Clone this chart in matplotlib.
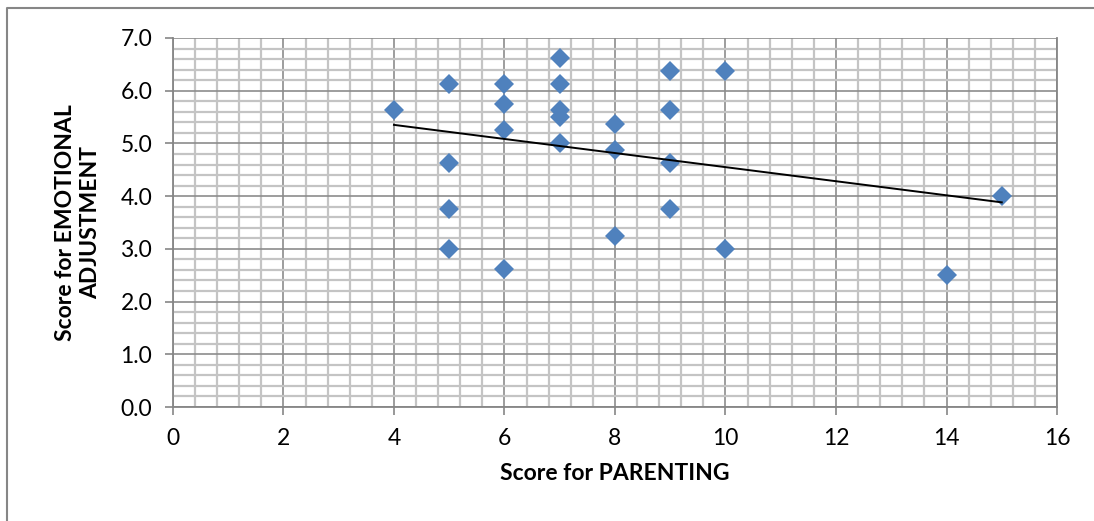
import numpy as np
from matplotlib import pyplot as plt
from matplotlib.lines import Line2D
from matplotlib.ticker import MultipleLocator

parenting = [4, 5, 5, 5, 5, 6, 6, 6, 6, 7, 7, 7, 7, 7,
             8, 8, 8, 9, 9, 9, 9, 10, 10, 14, 15]
emotional = [5.625, 6.125, 4.625, 3.75, 3.0, 6.125, 5.75, 5.25, 2.625,
             6.625, 6.125, 5.625, 5.5, 5.0, 5.375, 4.875, 3.25,
             6.375, 5.625, 4.625, 3.75, 6.375, 3.0, 2.5, 4.0]

plt.rcParams['font.family'] = ['Lato', 'DejaVu Sans']

fig = plt.figure(figsize=(10.94, 5.21), dpi=100)
ax = fig.add_axes([0.1581, 0.2188, 0.8081, 0.7083])

# chart border (only top and left edges fall inside the picture)
fig.lines.append(Line2D([0.0068, 0.0068, 1.0], [0.0, 0.984, 0.984],
                        transform=fig.transFigure, color='#868686', linewidth=1.5))

ax.plot(parenting, emotional, 'D', color='#4F81BD', markersize=10.5,
        markeredgewidth=0, zorder=3)

# linear trend line
coef = np.polyfit(parenting, emotional, 1)
xs = np.array([min(parenting), max(parenting)])
ax.plot(xs, np.polyval(coef, xs), color='black', linewidth=1.4, zorder=4)

ax.set_xlim(0, 16)
ax.set_ylim(0, 7)
ax.xaxis.set_major_locator(MultipleLocator(2))
ax.xaxis.set_minor_locator(MultipleLocator(0.4))
ax.yaxis.set_major_locator(MultipleLocator(1))
ax.yaxis.set_minor_locator(MultipleLocator(0.2))
ax.yaxis.set_major_formatter(plt.FormatStrFormatter('%.1f'))

ax.grid(which='minor', color='#C4C4C4', linewidth=1.6, zorder=0)
ax.grid(which='major', color='#8C8C8C', linewidth=1.2, zorder=1)
ax.set_axisbelow(True)

ax.spines['top'].set_visible(False)
for side in ['left', 'bottom', 'right']:
    ax.spines[side].set_color('#868686')
    ax.spines[side].set_linewidth(1.3)

ax.tick_params(which='major', direction='out', length=6, width=1.2,
               color='#868686', labelsize=16.5, pad=9)
ax.tick_params(which='minor', length=0)

ax.set_xlabel('Score for PARENTING', fontsize=16.5, fontweight='bold', labelpad=10)
ax.set_ylabel('Score for EMOTIONAL\nADJUSTMENT', fontsize=16.5, fontweight='bold',
              labelpad=14, linespacing=1.2)

plt.savefig('out.png', dpi=100)
plt.close()
